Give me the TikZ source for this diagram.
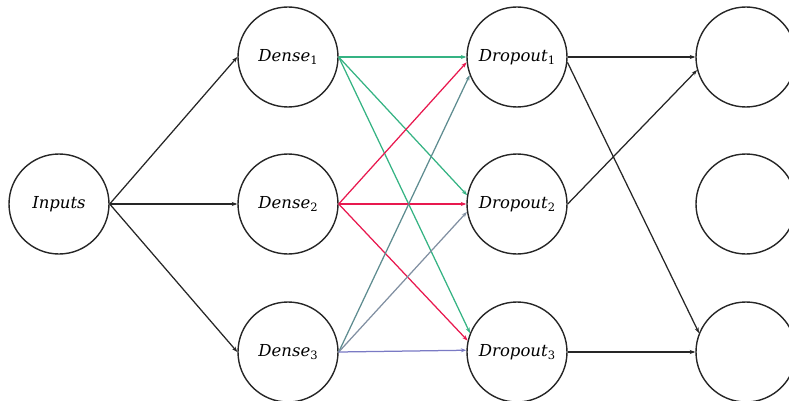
\documentclass[tikz,border=0pt]{standalone}
\usepackage{fontspec}
\newfontfamily\lblfont{DejaVu Serif}
\usetikzlibrary{arrows.meta}
\definecolor{cgreen}{HTML}{35B383}
\definecolor{cred}{HTML}{E8194F}
\definecolor{cteal}{HTML}{5E8C90}
\definecolor{cgray}{HTML}{8190A2}
\definecolor{cpurple}{HTML}{7A7AC4}
\newcommand\lbl[2]{\textit{#1}\raisebox{-0.35ex}{\fontsize{11.5}{13}\selectfont #2}}
\begin{document}
\begin{tikzpicture}[x=1pt,y=-1pt,
  neuron/.style={circle,draw=black!85,line width=1.4pt,minimum size=100pt,inner sep=0pt,font=\lblfont\fontsize{16.5}{19}\selectfont},
  conn/.style={-{Stealth[length=5.5pt,width=4pt]},line width=1.25pt},
  ]
\useasboundingbox (0,0) rectangle (789,401);
\node[neuron] (in) at (59,204) {\textit{Inputs}};
\node[neuron] (d1) at (288,57) {\lbl{Dense}{1}};
\node[neuron] (d2) at (288,204) {\lbl{Dense}{2}};
\node[neuron] (d3) at (288,352) {\lbl{Dense}{3}};
\node[neuron] (p1) at (517,57) {\lbl{Dropout}{1}};
\node[neuron] (p2) at (517,204) {\lbl{Dropout}{2}};
\node[neuron] (p3) at (517,352) {\lbl{Dropout}{3}};
\node[neuron] (r1) at (746,57) {};
\node[neuron] (r2) at (746,204) {};
\node[neuron] (r3) at (746,352) {};
% inputs to dense
\draw[conn,black!85] (in.east) -- (d1.west);
\draw[conn,black!85] (in.east) -- (d2.west);
\draw[conn,black!85] (in.east) -- (d3.west);
% dense1
\draw[conn,cgreen] (d1.east) -- (p1.180);
\draw[conn,cgreen] (d1.east) -- (p2.170);
\draw[conn,cgreen] (d1.east) -- (p3.158);
% dense2
\draw[conn,cred] (d2.east) -- (p1.186);
\draw[conn,cred] (d2.east) -- (p2.180);
\draw[conn,cred] (d2.east) -- (p3.167);
% dense3
\draw[conn,cteal] (d3.east) -- (p1.201);
\draw[conn,cgray] (d3.east) -- (p2.189);
\draw[conn,cpurple] (d3.east) -- (p3.178);
% dropout to output
\draw[conn,black!85] (p1.east) -- (r1.west);
\draw[conn,black!85] (p2.east) -- (r1.195);
\draw[conn,black!85] (p1.-6) -- (r3.158);
\draw[conn,black!85] (p3.east) -- (r3.west);
\end{tikzpicture}
\end{document}
